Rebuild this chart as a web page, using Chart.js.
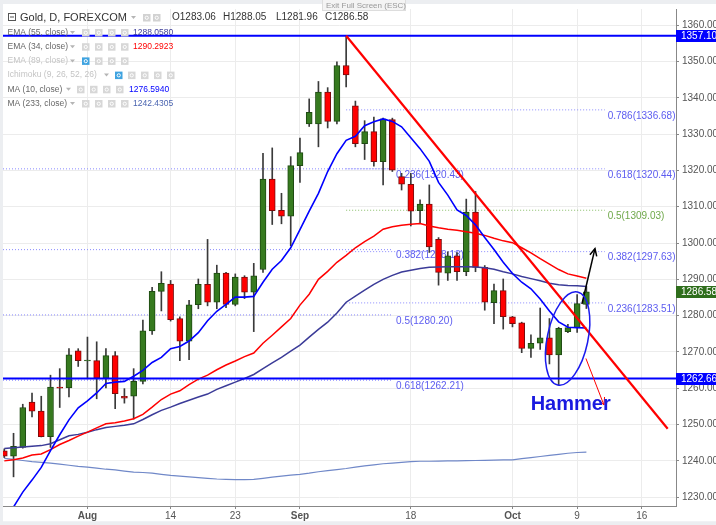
<!DOCTYPE html>
<html>
<head>
<meta charset="utf-8">
<script src="https://cdn.jsdelivr.net/npm/chart.js@4/dist/chart.umd.min.js"></script>
<style>
    html, body { margin: 0; padding: 0; background: #fff; }
    canvas { display: block; }
</style>
</head>
<body>
<canvas id="chart" width="716" height="525"></canvas>
<script>
// Gold, D, FOREXCOM - one candle per trading day, index 0 = first visible bar
const opens = [1242.8, 1241.3, 1243.7, 1256.2, 1253.7, 1246.7, 1260.3, 1260.1, 1270.3, 1267.5, 1267.6, 1262.8, 1269.0, 1257.8, 1257.8, 1261.9, 1275.8, 1286.7, 1288.7, 1279.2, 1273.0, 1283.0, 1288.6, 1283.7, 1291.7, 1283.1, 1290.6, 1286.5, 1292.7, 1317.6, 1309.0, 1307.4, 1321.3, 1332.8, 1332.8, 1341.6, 1333.5, 1348.9, 1337.8, 1327.4, 1330.7, 1322.4, 1334.0, 1318.3, 1316.2, 1308.9, 1310.7, 1301.0, 1291.7, 1296.5, 1292.1, 1308.5, 1293.3, 1283.6, 1286.9, 1279.7, 1278.0, 1271.0, 1272.4, 1273.9, 1269.2, 1275.6, 1276.7, 1283.06];
const highs = [1243.3, 1247.6, 1255.6, 1258.7, 1257.8, 1263.6, 1265.4, 1270.9, 1270.9, 1274.1, 1272.8, 1270.9, 1270.1, 1259.9, 1265.4, 1278.8, 1287.8, 1292.1, 1289.7, 1279.7, 1284.2, 1290.1, 1301.0, 1293.9, 1291.9, 1291.5, 1291.0, 1294.4, 1324.7, 1326.2, 1313.7, 1323.8, 1328.9, 1339.7, 1344.5, 1342.8, 1349.9, 1357.1, 1339.1, 1333.7, 1334.7, 1334.4, 1334.4, 1319.2, 1319.2, 1311.9, 1316.0, 1301.5, 1297.6, 1297.4, 1312.1, 1314.2, 1293.8, 1288.7, 1290.1, 1279.8, 1278.2, 1274.7, 1282.1, 1279.2, 1276.8, 1277.6, 1285.8, 1288.05];
const lows = [1240.9, 1235.6, 1243.5, 1252.1, 1246.6, 1243.7, 1254.7, 1257.6, 1266.0, 1262.6, 1257.1, 1260.1, 1254.4, 1255.9, 1251.5, 1261.2, 1274.8, 1281.3, 1278.5, 1267.6, 1267.9, 1281.9, 1282.7, 1281.9, 1282.2, 1282.7, 1284.7, 1275.6, 1291.9, 1305.1, 1305.3, 1299.2, 1316.7, 1332.1, 1326.5, 1331.7, 1332.8, 1343.0, 1326.5, 1323.0, 1321.2, 1316.0, 1319.7, 1314.6, 1304.7, 1305.6, 1297.4, 1288.4, 1289.7, 1289.7, 1291.0, 1292.1, 1281.5, 1277.8, 1276.3, 1276.9, 1269.8, 1268.5, 1270.7, 1266.7, 1261.0, 1275.3, 1275.4, 1281.96];
const closes = [1241.3, 1244.0, 1254.7, 1253.7, 1246.7, 1260.3, 1260.0, 1269.2, 1267.6, 1267.7, 1262.8, 1269.0, 1258.5, 1257.3, 1261.9, 1275.8, 1286.7, 1288.9, 1278.9, 1273.0, 1283.0, 1288.6, 1283.7, 1291.7, 1283.1, 1290.6, 1286.5, 1291.0, 1317.6, 1308.9, 1307.4, 1321.3, 1324.9, 1336.0, 1341.6, 1333.5, 1348.9, 1346.3, 1327.4, 1330.7, 1322.4, 1334.2, 1320.1, 1316.2, 1308.8, 1310.7, 1298.9, 1291.9, 1296.5, 1292.1, 1308.5, 1293.3, 1283.7, 1286.9, 1279.7, 1277.8, 1271.0, 1272.4, 1273.9, 1269.2, 1276.5, 1276.7, 1283.3, 1286.58];

// Indicator lines, read per bar
const ma10 = [1223.8, 1227.3, 1231.4, 1234.7, 1238.2, 1242.8, 1247.2, 1251.3, 1254.6, 1256.5, 1258.7, 1261.3, 1261.7, 1261.9, 1263.3, 1264.9, 1267.1, 1268.5, 1270.9, 1271.5, 1273.0, 1275.3, 1278.6, 1281.2, 1283.1, 1285.1, 1285.1, 1285.3, 1289.2, 1292.8, 1295.2, 1298.7, 1303.7, 1308.8, 1313.7, 1319.7, 1324.6, 1328.3, 1329.4, 1332.3, 1333.4, 1334.2, 1333.5, 1332.0, 1329.0, 1326.0, 1322.5, 1316.7, 1313.2, 1309.1, 1307.6, 1305.0, 1301.5, 1298.2, 1294.7, 1291.6, 1289.2, 1287.4, 1284.6, 1281.3, 1278.3, 1276.8, 1276.7, 1276.6];
const ema34 = [1240.0, 1240.3, 1240.8, 1241.6, 1241.9, 1243.1, 1244.5, 1245.6, 1246.8, 1247.9, 1249.1, 1250.2, 1250.5, 1251.0, 1251.6, 1252.8, 1254.8, 1256.9, 1258.4, 1259.3, 1261.0, 1262.5, 1263.6, 1265.1, 1266.4, 1267.5, 1268.7, 1269.7, 1272.4, 1274.6, 1276.9, 1279.2, 1282.9, 1285.9, 1290.0, 1292.2, 1294.7, 1296.6, 1298.7, 1300.4, 1301.9, 1303.8, 1304.5, 1304.9, 1305.2, 1305.4, 1304.7, 1304.2, 1303.8, 1303.5, 1303.1, 1302.7, 1302.1, 1301.3, 1300.6, 1300.1, 1298.7, 1297.3, 1295.7, 1294.2, 1292.7, 1291.5, 1290.9, 1290.3];
const ema55 = [1243.4, 1243.6, 1243.8, 1244.0, 1244.2, 1244.7, 1245.8, 1246.9, 1247.3, 1247.9, 1248.6, 1249.2, 1249.5, 1249.8, 1250.2, 1251.4, 1252.7, 1253.9, 1254.8, 1255.8, 1256.7, 1257.6, 1258.4, 1259.7, 1260.7, 1261.7, 1262.7, 1263.8, 1265.4, 1267.0, 1268.5, 1270.2, 1271.9, 1274.1, 1276.2, 1278.2, 1280.7, 1283.7, 1285.4, 1287.0, 1288.6, 1290.0, 1291.1, 1292.0, 1292.5, 1293.0, 1293.3, 1293.4, 1293.5, 1293.5, 1293.5, 1293.4, 1293.2, 1292.8, 1292.1, 1291.5, 1290.8, 1290.2, 1289.6, 1288.9, 1288.5, 1288.3, 1288.2, 1288.06];
const ma233 = [1240.7, 1240.4, 1240.1, 1239.8, 1239.6, 1239.4, 1239.1, 1238.8, 1238.5, 1238.3, 1238.0, 1237.7, 1237.5, 1237.2, 1236.9, 1236.8, 1236.6, 1236.3, 1236.0, 1235.8, 1235.6, 1235.4, 1235.2, 1235.0, 1234.9, 1234.85, 1234.85, 1234.9, 1235.2, 1235.5, 1235.8, 1236.1, 1236.3, 1236.6, 1237.0, 1237.3, 1237.6, 1237.9, 1238.3, 1238.6, 1238.9, 1239.2, 1239.4, 1239.6, 1239.8, 1239.9, 1239.9, 1239.95, 1240.0, 1240.0, 1240.05, 1240.1, 1240.15, 1240.2, 1240.25, 1240.3, 1240.6, 1240.9, 1241.2, 1241.5, 1241.8, 1242.1, 1242.3, 1242.43];

// Time axis (bar index -> label)
const tickIdx = [9, 18, 25, 32, 44, 55, 62, 69];
const tickText = ["Aug", "14", "23", "Sep", "18", "Oct", "9", "16"];
const monthTicks = ["Aug", "Sep", "Oct"];

// Price axis
const priceTicks = [1230, 1240, 1250, 1260, 1270, 1280, 1290, 1300, 1310, 1320, 1330, 1340, 1350, 1360];

// Fibonacci retracements
const fibRightLevels = ["0.786", "0.618", "0.5", "0.382", "0.236"];
const fibRightPrices = [1336.68, 1320.44, 1309.03, 1297.63, 1283.51];
const fibLeftLevels = ["0.236", "0.382", "0.5", "0.618"];
const fibLeftPrices = [1320.43, 1298.18, 1280.20, 1262.21];

// Drawings: [bar index, price]
const swingHigh = 1357.10, support = 1262.66, lastClose = 1286.58;
const trendLine = [[37, 1357.1], [71.8, 1248.85]];
const upArrow = [[62.52, 1283.2], [63.93, 1298.47]];
const downArrow = [[62.95, 1268.2], [64.9, 1255.4]];
const hammerCenter = [60.97, 1273.7];

const FONT = "'Liberation Sans', Arial, sans-serif";
const xMin = -0.14, xMax = 72.7, yMin = 1227.57, yMax = 1364.46;

const idx = opens.map((_, i) => i);
const up = idx.map(i => closes[i] >= opens[i]);
const pts = arr => arr.map((v, i) => ({ x: i, y: v }));
const seg = (a, b) => [{ x: a[0], y: a[1] }, { x: b[0], y: b[1] }];
const hLine = (p, x0, x1) => [{ x: x0, y: p }, { x: x1, y: p }];

const lineDs = (data, color, width, order, extra) => Object.assign({
    type: "line", data, borderColor: color, borderWidth: width,
    pointRadius: 0, tension: 0, fill: false, order
}, extra || {});

const datasets = [];

// Fib levels (under everything)
fibRightPrices.forEach((p, k) => datasets.push(lineDs(hLine(p, 37, 65),
    fibRightLevels[k] === "0.5" ? "#86bd66" : "#8a8aff", 1, 30, { borderDash: [1, 2] })));
fibLeftPrices.forEach(p => datasets.push(lineDs(hLine(p, xMin, 42), "#8a8aff", 1, 30, { borderDash: [1, 2] })));

// Candles: wick + body as floating bars
datasets.push({
    type: "bar", data: idx.map(i => ({ x: i, y: [lows[i], highs[i]] })),
    backgroundColor: "#3a3a3a", barThickness: 1, grouped: false, order: 21
});
datasets.push({
    type: "bar", data: idx.map(i => ({ x: i, y: [Math.min(opens[i], closes[i]), Math.max(opens[i], closes[i])] })),
    backgroundColor: up.map(u => u ? "#367a1f" : "#ff0000"),
    borderColor: up.map(u => u ? "#1e4a12" : "#7a0c0c"),
    borderWidth: 1, borderSkipped: false, barThickness: 6, minBarLength: 1, grouped: false, order: 20
});

// Moving averages
datasets.push(lineDs(pts(ma233), "#7088c8", 1.2, 14));
datasets.push(lineDs(pts(ema55), "#3b3b98", 1.5, 13));
datasets.push(lineDs(pts(ema34), "#ff0000", 1.5, 12));
datasets.push(lineDs(pts(ma10), "#0000ff", 1.6, 11));

// Horizontal levels, trend line, arrows
datasets.push(lineDs(hLine(swingHigh, xMin, xMax), "#0000ff", 2, 5));
datasets.push(lineDs(hLine(support, xMin, xMax), "#0000ff", 2, 5));
datasets.push(lineDs(seg(trendLine[0], trendLine[1]), "#ff0000", 2.2, 4));
datasets.push(lineDs(seg(upArrow[0], upArrow[1]), "#000000", 1.5, 2));
datasets.push(lineDs(seg(downArrow[0], downArrow[1]), "#ff0000", 1, 2));

const legendRows = [
    { name: "EMA (55, close)", arrow: 70, icons: [82, 95, 108, 121], value: "1288.0580", vx: 133, color: "#3b3b98" },
    { name: "EMA (34, close)", arrow: 70, icons: [82, 95, 108, 121], value: "1290.2923", vx: 133, color: "#ff0000" },
    { name: "EMA (89, close)", arrow: 70, icons: [82, 95, 108, 121], faded: true },
    { name: "Ichimoku (9, 26, 52, 26)", arrow: 104, icons: [115, 128, 141, 154, 167], faded: true },
    { name: "MA (10, close)", arrow: 66, icons: [77, 90, 103, 116], value: "1276.5940", vx: 129, color: "#0000ff" },
    { name: "MA (233, close)", arrow: 70, icons: [82, 95, 108, 121], value: "1242.4305", vx: 133, color: "#4a64b0" }
];

const decor = {
    id: "decor",
    beforeDraw(chart) {
        const { ctx, width, height } = chart;
        ctx.save();
        ctx.fillStyle = "#eceef1";
        ctx.fillRect(0, 0, width, height);
        ctx.fillStyle = "#ffffff";
        ctx.fillRect(3, 4, width - 3, 517.5);
        ctx.restore();
    },
    beforeDatasetsDraw(chart) {
        // fib labels sit under the candles
        const { ctx, chartArea: a, scales: { x, y } } = chart;
        ctx.save();
        ctx.beginPath(); ctx.rect(a.left, a.top, a.right - a.left, a.bottom - a.top); ctx.clip();
        ctx.font = `10px ${FONT}`;
        ctx.textBaseline = "middle";
        fibRightPrices.forEach((p, k) => {
            ctx.fillStyle = fibRightLevels[k] === "0.5" ? "#6fa84a" : "#5c5cf0";
            ctx.fillText(`${fibRightLevels[k]}(${p.toFixed(2)})`, x.getPixelForValue(65.3), y.getPixelForValue(p) + 6);
        });
        ctx.fillStyle = "#5c5cf0";
        fibLeftPrices.forEach((p, k) => {
            ctx.fillText(`${fibLeftLevels[k]}(${p.toFixed(2)})`, x.getPixelForValue(42.4), y.getPixelForValue(p) + 6);
        });
        ctx.restore();
    },
    afterDatasetsDraw(chart) {
        const { ctx, chartArea: a, scales: { x, y } } = chart;
        const px = p => [x.getPixelForValue(p[0]), y.getPixelForValue(p[1])];
        ctx.save();
        ctx.beginPath(); ctx.rect(a.left, a.top, a.right - a.left, a.bottom - a.top); ctx.clip();

        // Arrow heads
        const head = (from, to, len, color, w) => {
            const [x0, y0] = px(from), [x1, y1] = px(to);
            const ang = Math.atan2(y1 - y0, x1 - x0);
            ctx.strokeStyle = color; ctx.lineWidth = w;
            ctx.beginPath();
            ctx.moveTo(x1 - len * Math.cos(ang - 0.45), y1 - len * Math.sin(ang - 0.45));
            ctx.lineTo(x1, y1);
            ctx.lineTo(x1 - len * Math.cos(ang + 0.45), y1 - len * Math.sin(ang + 0.45));
            ctx.stroke();
        };
        head(upArrow[0], upArrow[1], 8, "#000000", 1.5);
        head(downArrow[0], downArrow[1], 8, "#ff0000", 1);

        // Ellipse round the hammer candle
        const [cx, cy] = px(hammerCenter);
        const rx = x.getPixelForValue(hammerCenter[0] + 2.2) - cx;
        const ry = y.getPixelForValue(hammerCenter[1] - 13.1) - cy;
        ctx.strokeStyle = "#1a1aee"; ctx.lineWidth = 1.5;
        ctx.beginPath();
        ctx.ellipse(cx, cy, rx, ry, 12 * Math.PI / 180, 0, Math.PI * 2);
        ctx.stroke();

        // "Hammer" label
        ctx.fillStyle = "#1a1ae0";
        ctx.font = `bold 20px ${FONT}`;
        ctx.textAlign = "center"; ctx.textBaseline = "middle";
        const [hx, hy] = px([61.3, 1255.65]);
        ctx.fillText("Hammer", hx, hy);
        ctx.restore();
    },
    afterDraw(chart) {
        const { ctx, chartArea: a, scales: { y } } = chart;
        ctx.save();

        // Price badges on the axis
        ctx.font = `10px ${FONT}`;
        ctx.textBaseline = "middle";
        [[swingHigh, "#0000ff"], [lastClose, "#2f6e1c"], [support, "#0000ff"]].forEach(([p, c]) => {
            const py = y.getPixelForValue(p);
            ctx.fillStyle = c;
            ctx.fillRect(a.right, Math.round(py) - 6, 716 - a.right, 12);
            ctx.fillStyle = "#ffffff";
            ctx.fillText(p.toFixed(2), a.right + 5, py + 0.5);
        });

        // Bottom band
        ctx.fillStyle = "#eceef1";
        ctx.fillRect(0, 521.5, 716, 4);

        // Header line
        ctx.strokeStyle = "#555"; ctx.lineWidth = 1;
        ctx.strokeRect(8.5, 13.5, 7, 7);
        ctx.beginPath(); ctx.moveTo(10, 17); ctx.lineTo(14, 17); ctx.stroke();
        ctx.fillStyle = "#333";
        ctx.font = `11px ${FONT}`;
        ctx.fillText("Gold, D, FOREXCOM", 20, 17.5);
        const tri = (tx, ty) => {
            ctx.fillStyle = "#b5b5b5";
            ctx.beginPath(); ctx.moveTo(tx, ty - 1.5); ctx.lineTo(tx + 5, ty - 1.5); ctx.lineTo(tx + 2.5, ty + 1.5); ctx.fill();
        };
        tri(131, 17.5);
        const icon = (ix, iy, c) => {
            ctx.fillStyle = c;
            ctx.fillRect(ix, iy - 3.5, 7.5, 7.5);
            ctx.strokeStyle = "#ffffff"; ctx.lineWidth = 1;
            ctx.beginPath(); ctx.arc(ix + 3.75, iy + 0.25, 1.6, 0, Math.PI * 2); ctx.stroke();
        };
        icon(143, 17.5, "#d2d2d2");
        icon(153, 17.5, "#d2d2d2");
        ctx.fillStyle = "#333";
        ctx.font = `10px ${FONT}`;
        ctx.fillText("O1283.06", 172, 17.5);
        ctx.fillText("H1288.05", 223, 17.5);
        ctx.fillText("L1281.96", 276, 17.5);
        ctx.fillText("C1286.58", 325, 17.5);

        // Indicator legend rows
        legendRows.forEach((r, k) => {
            const ry = 32.5 + k * 14.2;
            ctx.font = `8.5px ${FONT}`;
            ctx.fillStyle = r.faded ? "#c4c4c4" : "#666";
            ctx.fillText(r.name, 7.5, ry);
            tri(r.arrow, ry);
            r.icons.forEach((ix, j) => icon(ix, ry, r.faded && j === 0 ? "#3fa3e0" : "#d7d7d7"));
            if (r.value) {
                ctx.fillStyle = r.color;
                ctx.fillText(r.value, r.vx, ry);
            }
        });

        // Full screen hint
        ctx.fillStyle = "#f4f4f4";
        ctx.fillRect(322, 0, 84, 11);
        ctx.strokeStyle = "#dddddd";
        ctx.strokeRect(322.5, -0.5, 83, 11);
        ctx.fillStyle = "#999";
        ctx.font = `8px ${FONT}`;
        ctx.fillText("Exit Full Screen (ESC)", 326, 5.5);
        ctx.restore();
    }
};

new Chart(document.getElementById("chart"), {
    type: "bar",
    data: { datasets },
    options: {
        responsive: false,
        animation: false,
        events: [],
        layout: { padding: { left: 3, top: 4, right: 0, bottom: 0 } },
        plugins: { legend: { display: false }, tooltip: { enabled: false } },
        scales: {
            x: {
                type: "linear", min: xMin, max: xMax, offset: false,
                afterBuildTicks: s => { s.ticks = tickIdx.map(v => ({ value: v })); },
                afterFit: s => { s.height = 19; },
                grid: { color: "#ececec", tickColor: "#888", tickLength: 3, offset: false },
                border: { color: "#888" },
                ticks: {
                    autoSkip: false, maxRotation: 0, padding: 1, color: "#555",
                    callback: (v, i) => tickText[i],
                    font: c => ({ family: FONT, size: 10, weight: monthTicks.includes(tickText[c.index]) ? "bold" : "normal" })
                }
            },
            y: {
                type: "linear", position: "right", min: yMin, max: yMax, beginAtZero: false,
                afterBuildTicks: s => { s.ticks = priceTicks.map(v => ({ value: v })); },
                afterFit: s => { s.width = 40; },
                grid: { color: "#ececec", tickColor: "#888", tickLength: 3 },
                border: { color: "#888" },
                ticks: { padding: 3, color: "#555", font: { family: FONT, size: 10 }, callback: v => v.toFixed(2) }
            }
        }
    },
    plugins: [decor]
});
</script>
</body>
</html>
